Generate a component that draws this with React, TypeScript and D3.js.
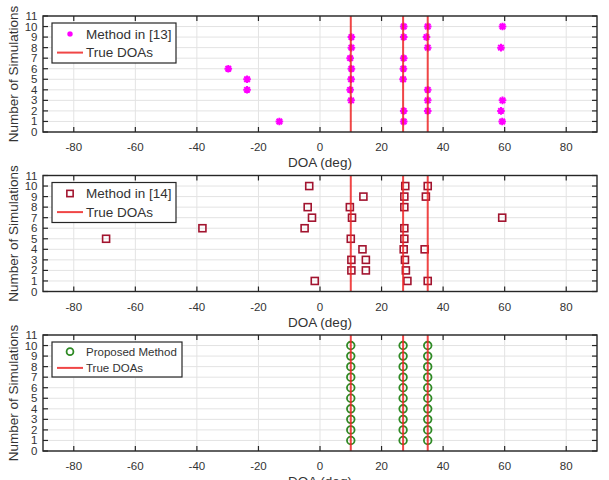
import React, { useEffect, useRef } from 'react';
import * as d3 from 'd3';

// DOA estimates per simulation run: [doa in degrees, simulation number]
const method13: Array<[number, number]> = [
  [-13.2, 1], [27.2, 1], [59.2, 1],
  [27.2, 2], [35.0, 2], [58.8, 2],
  [10.1, 3], [35.0, 3], [59.3, 3],
  [-23.7, 4], [9.8, 4], [35.0, 4],
  [-23.7, 5], [10.1, 5], [27.0, 5],
  [-29.8, 6], [10.2, 6], [27.1, 6],
  [9.8, 7], [27.2, 7],
  [10.2, 8], [35.0, 8], [58.8, 8],
  [10.2, 9], [27.2, 9], [34.6, 9],
  [27.2, 10], [35.0, 10], [59.3, 10],
];

const method14: Array<[number, number]> = [
  [-1.7, 1], [28.4, 1], [35.0, 1],
  [10.2, 2], [14.9, 2], [27.9, 2],
  [10.2, 3], [14.9, 3], [27.6, 3],
  [13.8, 4], [27.2, 4], [34.0, 4],
  [-69.5, 5], [10.0, 5], [27.4, 5],
  [-38.2, 6], [-5.0, 6], [27.4, 6],
  [-2.6, 7], [10.4, 7], [59.2, 7],
  [-4.0, 8], [9.7, 8], [27.4, 8],
  [14.1, 9], [27.4, 9], [34.4, 9],
  [-3.5, 10], [27.7, 10], [35.0, 10],
];

const proposed: Array<[number, number]> = [
  [10, 1], [27, 1], [35, 1],
  [10, 2], [27, 2], [35, 2],
  [10, 3], [27, 3], [35, 3],
  [10, 4], [27, 4], [35, 4],
  [10, 5], [27, 5], [35, 5],
  [10, 6], [27, 6], [35, 6],
  [10, 7], [27, 7], [35, 7],
  [10, 8], [27, 8], [35, 8],
  [10, 9], [27, 9], [35, 9],
  [10, 10], [27, 10], [35, 10],
];

const trueDOAs = [10, 27, 35];
const xTicks = [-80, -60, -40, -20, 0, 20, 40, 60, 80];
const yTicks = [0, 1, 2, 3, 4, 5, 6, 7, 8, 9, 10, 11];

type MarkerKind = 'asterisk' | 'square' | 'circle';

interface Panel {
  top: number;
  data: Array<[number, number]>;
  label: string;
  marker: MarkerKind;
  color: string;
  legendW: number;
  legendH: number;
  legendFont: number;
}

const panels: Panel[] = [
  { top: 16, data: method13, label: 'Method in [13]', marker: 'asterisk', color: '#ff00ff', legendW: 124, legendH: 40, legendFont: 13.5 },
  { top: 175.5, data: method14, label: 'Method in [14]', marker: 'square', color: '#a2142f', legendW: 124, legendH: 40, legendFont: 13.5 },
  { top: 335, data: proposed, label: 'Proposed Method', marker: 'circle', color: '#2f8a25', legendW: 130, legendH: 35, legendFont: 11.5 },
];

const W = 609;
const H = 480;
const LEFT = 43;
const RIGHT = 597;
const PANEL_H = 116;
const FONT = '"Liberation Sans", Arial, Helvetica, sans-serif';
const AXIS = '#262626';
const TEXT = '#333';
const RED = '#ee2626';

function drawMarker(g: d3.Selection<SVGGElement, unknown, null, undefined>, kind: MarkerKind, x: number, y: number, color: string, s = 1) {
  if (kind === 'asterisk') {
    const r = 3.8 * s;
    const d = r * 0.72;
    const path = `M${x - r},${y}L${x + r},${y}M${x},${y - r}L${x},${y + r}` +
      `M${x - d},${y - d}L${x + d},${y + d}M${x - d},${y + d}L${x + d},${y - d}`;
    g.append('path').attr('d', path).attr('stroke', color).attr('stroke-width', 2 * s).attr('fill', 'none');
    g.append('circle').attr('cx', x).attr('cy', y).attr('r', 2 * s).attr('fill', color);
  } else if (kind === 'square') {
    const h = 3.5 * s;
    g.append('rect').attr('x', x - h).attr('y', y - h).attr('width', 2 * h).attr('height', 2 * h)
      .attr('fill', 'none').attr('stroke', color).attr('stroke-width', 1.6);
  } else {
    g.append('circle').attr('cx', x).attr('cy', y).attr('r', 3.8 * s)
      .attr('fill', 'none').attr('stroke', color).attr('stroke-width', 1.8);
  }
}

const App: React.FC = () => {
  const svgRef = useRef<SVGSVGElement>(null);

  useEffect(() => {
    if (!svgRef.current) return;
    const svg = d3.select(svgRef.current);
    svg.selectAll('*').remove();

    const x = d3.scaleLinear().domain([-90, 90]).range([LEFT, RIGHT]);

    panels.forEach((p) => {
      const bottom = p.top + PANEL_H;
      const y = d3.scaleLinear().domain([0, 11]).range([bottom, p.top]);
      const g = svg.append('g');

      // grid
      xTicks.forEach((t) => {
        g.append('line').attr('x1', x(t)).attr('x2', x(t)).attr('y1', p.top).attr('y2', bottom)
          .attr('stroke', '#e3e3e3').attr('stroke-width', 1);
      });
      yTicks.forEach((t) => {
        g.append('line').attr('x1', LEFT).attr('x2', RIGHT).attr('y1', y(t)).attr('y2', y(t))
          .attr('stroke', '#e3e3e3').attr('stroke-width', 1);
      });

      // estimates
      p.data.forEach(([doa, sim]) => drawMarker(g, p.marker, x(doa), y(sim), p.color));

      // true DOAs
      trueDOAs.forEach((d) => {
        g.append('line').attr('x1', x(d)).attr('x2', x(d)).attr('y1', p.top).attr('y2', bottom)
          .attr('stroke', RED).attr('stroke-width', 2).attr('opacity', 0.85);
      });

      // ticks (inside, all four sides)
      xTicks.forEach((t) => {
        g.append('line').attr('x1', x(t)).attr('x2', x(t)).attr('y1', bottom).attr('y2', bottom - 5)
          .attr('stroke', AXIS).attr('stroke-width', 1.2);
        g.append('line').attr('x1', x(t)).attr('x2', x(t)).attr('y1', p.top).attr('y2', p.top + 5)
          .attr('stroke', AXIS).attr('stroke-width', 1.2);
        g.append('text').attr('x', x(t)).attr('y', bottom + 19).attr('text-anchor', 'middle')
          .attr('font-family', FONT).attr('font-size', 11.5).attr('fill', TEXT).text(t);
      });
      yTicks.forEach((t) => {
        g.append('line').attr('x1', LEFT).attr('x2', LEFT + 5).attr('y1', y(t)).attr('y2', y(t))
          .attr('stroke', AXIS).attr('stroke-width', 1.2);
        g.append('line').attr('x1', RIGHT).attr('x2', RIGHT - 5).attr('y1', y(t)).attr('y2', y(t))
          .attr('stroke', AXIS).attr('stroke-width', 1.2);
        g.append('text').attr('x', 37.5).attr('y', y(t) + 4).attr('text-anchor', 'end')
          .attr('font-family', FONT).attr('font-size', 11.5).attr('fill', TEXT).text(t);
      });

      g.append('rect').attr('x', LEFT).attr('y', p.top).attr('width', RIGHT - LEFT).attr('height', PANEL_H)
        .attr('fill', 'none').attr('stroke', AXIS).attr('stroke-width', 1.4);

      // axis labels
      g.append('text').attr('x', (LEFT + RIGHT) / 2).attr('y', bottom + 35).attr('text-anchor', 'middle')
        .attr('font-family', FONT).attr('font-size', 13.5).attr('fill', TEXT).text('DOA (deg)');
      g.append('text').attr('transform', `translate(18,${(p.top + bottom) / 2}) rotate(-90)`)
        .attr('text-anchor', 'middle').attr('font-family', FONT).attr('font-size', 13.5).attr('fill', TEXT)
        .text('Number of Simulations');

      // legend
      const lx = 52;
      const ly = p.top + 7;
      const gap = p.legendH / 2;
      g.append('rect').attr('x', lx).attr('y', ly).attr('width', p.legendW).attr('height', p.legendH)
        .attr('fill', '#fff').attr('stroke', AXIS).attr('stroke-width', 1.2);
      const r1 = ly + gap * 0.55;
      const r2 = ly + gap * 1.48;
      drawMarker(g, p.marker, lx + 18, r1, p.color, p.marker === 'asterisk' ? 0.75 : 0.9);
      g.append('text').attr('x', lx + 34).attr('y', r1 + p.legendFont * 0.36)
        .attr('font-family', FONT).attr('font-size', p.legendFont).attr('fill', TEXT).text(p.label);
      g.append('line').attr('x1', lx + 5).attr('x2', lx + 31).attr('y1', r2).attr('y2', r2)
        .attr('stroke', RED).attr('stroke-width', 2).attr('opacity', 0.85);
      g.append('text').attr('x', lx + 34).attr('y', r2 + p.legendFont * 0.36)
        .attr('font-family', FONT).attr('font-size', p.legendFont).attr('fill', TEXT).text('True DOAs');
    });
  }, []);

  return (
    <div style={{ position: 'absolute', left: 0, top: 0, width: W, height: H, background: '#fff', overflow: 'hidden' }}>
      <svg ref={svgRef} width={W} height={H} style={{ display: 'block' }} />
    </div>
  );
};

export default App;
